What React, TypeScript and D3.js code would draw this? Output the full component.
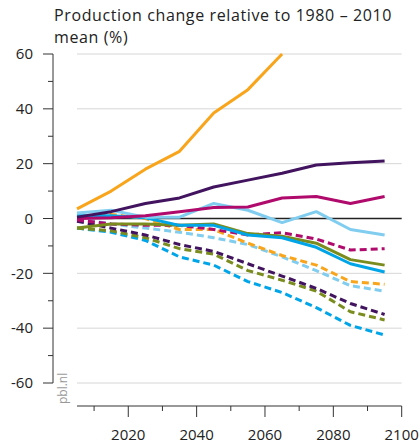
import React from "react";
import * as d3 from "d3";

// decades sampled in the projection (mid-points)
const years = [2005, 2015, 2025, 2035, 2045, 2055, 2065, 2075, 2085, 2095];

// solid lines
const orangeSolid = [3.5, 10, 18, 24.5, 38.5, 47, 60];
const purpleSolid = [0.5, 2.5, 5.5, 7.5, 11.5, 14, 16.5, 19.5, 20.3, 21];
const magentaSolid = [0, 0.3, 1, 2.5, 4, 4.2, 7.5, 8, 5.5, 8];
const lightBlueSolid = [2, 3, 0.5, 0.5, 5.5, 3, -1.5, 2.5, -4, -6];
const blueSolid = [1, 1, 0.3, -2.5, -2.5, -6, -7, -10.5, -16.5, -19.5];
const oliveSolid = [-3.5, -2, -2, -2.5, -2, -5.5, -6.5, -9, -15, -17];

// dashed lines
const magentaDashed = [-0.5, -2, -2.5, -2.5, -4, -6, -5.2, -7.5, -11.5, -11];
const orangeDashed = [0, 1.5, 0, -4, -4, -9, -13.5, -17, -23, -24];
const lightBlueDashed = [0, -2, -3.5, -5, -7, -9.5, -14, -19, -24.5, -26.5];
const purpleDashed = [-1, -3.5, -6, -9.5, -12, -16.5, -21, -25.5, -31, -35];
const oliveDashed = [-3.5, -4.5, -7, -11, -13, -19, -22.5, -26.5, -34, -37];
const blueDashed = [-3.5, -5, -8, -14, -17, -23, -27, -32.5, -39, -42.5];

const yTicks = [60, 40, 20, 0, -20, -40, -60];
const yMinor = [50, 30, 10, -10, -30, -50];
const xTicks = [2020, 2040, 2060, 2080, 2100];
const xMinor = [2010, 2030, 2050, 2070, 2090];

const C = {
  orange: "#f9a51c",
  purple: "#42145f",
  magenta: "#b00a6c",
  lightBlue: "#80cdf0",
  blue: "#00a5e8",
  olive: "#7b8c1e",
};

const series: { vals: number[]; color: string; dashed: boolean }[] = [
  { vals: blueDashed, color: C.blue, dashed: true },
  { vals: oliveDashed, color: C.olive, dashed: true },
  { vals: purpleDashed, color: C.purple, dashed: true },
  { vals: lightBlueDashed, color: C.lightBlue, dashed: true },
  { vals: orangeDashed, color: C.orange, dashed: true },
  { vals: magentaDashed, color: C.magenta, dashed: true },
  { vals: oliveSolid, color: C.olive, dashed: false },
  { vals: blueSolid, color: C.blue, dashed: false },
  { vals: lightBlueSolid, color: C.lightBlue, dashed: false },
  { vals: magentaSolid, color: C.magenta, dashed: false },
  { vals: purpleSolid, color: C.purple, dashed: false },
  { vals: orangeSolid, color: C.orange, dashed: false },
];

const FONT = "'Open Sans', Lato, sans-serif";

const App = () => {
  const x = d3.scaleLinear().domain([2005, 2100]).range([77, 401.7]);
  const y = d3.scaleLinear().domain([-60, 60]).range([383, 54]);
  const axisX = 53;
  const baseY = 406;

  const line = d3.line<number>()
    .x((d, i) => x(years[i]))
    .y((d) => y(d));

  return (
    <svg width={420} height={444} style={{ position: "absolute", left: 0, top: 0 }} fontFamily={FONT}>
      <text x={54} y={21} fontSize={16} letterSpacing={0.62} fill="#222">Production change relative to 1980 – 2010</text>
      <text x={54} y={43} fontSize={16} letterSpacing={0.62} fill="#222">mean (%)</text>

      {/* grid */}
      {yTicks.filter((t) => t !== 0).map((t) => (
        <line key={"g" + t} x1={x(2005)} x2={x(2100)} y1={y(t)} y2={y(t)} stroke="#d6d6d6" strokeWidth={1} />
      ))}

      {/* y axis */}
      <line x1={axisX} x2={axisX} y1={y(60)} y2={y(-60)} stroke="#333" strokeWidth={1} />
      {yTicks.map((t) => (
        <g key={"y" + t}>
          <line x1={axisX - 10} x2={axisX} y1={y(t)} y2={y(t)} stroke="#333" />
          <text x={33} y={y(t)} dy="0.35em" textAnchor="end" fontSize={15} fill="#222">{t}</text>
        </g>
      ))}
      {yMinor.map((t) => (
        <line key={"ym" + t} x1={axisX - 5} x2={axisX} y1={y(t)} y2={y(t)} stroke="#333" />
      ))}

      {/* x axis */}
      <line x1={x(2005)} x2={x(2100)} y1={baseY} y2={baseY} stroke="#333" />
      {xTicks.map((t) => (
        <g key={"x" + t}>
          <line x1={x(t)} x2={x(t)} y1={baseY} y2={baseY + 11} stroke="#333" />
          <text x={x(t)} y={440} textAnchor="middle" fontSize={15} fill="#222">{t}</text>
        </g>
      ))}
      {xMinor.map((t) => (
        <line key={"xm" + t} x1={x(t)} x2={x(t)} y1={baseY} y2={baseY + 5} stroke="#333" />
      ))}

      <text transform="translate(67,404) rotate(-90)" fontSize={12} fill="#999">pbl.nl</text>

      {/* zero line */}
      <line x1={x(2005)} x2={x(2100)} y1={y(0)} y2={y(0)} stroke="#222" strokeWidth={1.5} />

      {series.map((s, i) => (
        <path
          key={i}
          d={line(s.vals) || ""}
          fill="none"
          stroke={s.color}
          strokeWidth={3}
          strokeDasharray={s.dashed ? "7,4" : undefined}
          strokeLinejoin="round"
        />
      ))}
    </svg>
  );
};

export default App;
